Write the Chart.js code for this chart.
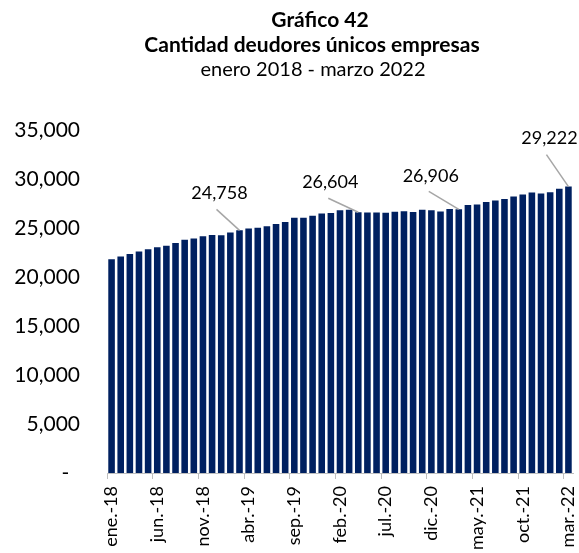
<!DOCTYPE html>
<html>
<head>
<meta charset="utf-8">
<script src="https://cdn.jsdelivr.net/npm/chart.js@4"></script>
<style>
  html, body { margin: 0; padding: 0; background: #fff; overflow: hidden; }
  #wrap { width: 579px; height: 553px; position: relative; }
</style>
</head>
<body>
<div id="wrap"><canvas id="grafico"></canvas></div>
<script>
// titulos del grafico
const tituloLineas = ['Gráfico 42', 'Cantidad deudores únicos empresas'];
const subtitulo = 'enero 2018 - marzo 2022';

// meses (ene-18 a mar-22)
const meses = [
  'ene.-18', 'feb.-18', 'mar.-18', 'abr.-18', 'may.-18', 'jun.-18', 'jul.-18', 'ago.-18', 'sep.-18', 'oct.-18', 'nov.-18', 'dic.-18',
  'ene.-19', 'feb.-19', 'mar.-19', 'abr.-19', 'may.-19', 'jun.-19', 'jul.-19', 'ago.-19', 'sep.-19', 'oct.-19', 'nov.-19', 'dic.-19',
  'ene.-20', 'feb.-20', 'mar.-20', 'abr.-20', 'may.-20', 'jun.-20', 'jul.-20', 'ago.-20', 'sep.-20', 'oct.-20', 'nov.-20', 'dic.-20',
  'ene.-21', 'feb.-21', 'mar.-21', 'abr.-21', 'may.-21', 'jun.-21', 'jul.-21', 'ago.-21', 'sep.-21', 'oct.-21', 'nov.-21', 'dic.-21',
  'ene.-22', 'feb.-22', 'mar.-22'
];

// cantidad de deudores unicos
const deudores = [
  21800, 22080, 22340, 22590, 22820, 23030, 23200, 23460, 23810, 23940, 24150, 24280,
  24250, 24550, 24758, 24960, 25020, 25170, 25400, 25600, 26050, 26050, 26250, 26490,
  26520, 26800, 26870, 26604, 26590, 26590, 26560, 26660, 26720, 26620, 26850, 26800,
  26690, 26930, 26906, 27340, 27410, 27650, 27810, 27950, 28220, 28430, 28630, 28530,
  28660, 29000, 29222
];

// barras con etiqueta de valor
const anotados = [14, 27, 38, 50];

// eje y
const yMax = 35000;
const yPaso = 5000;

// posicion de las etiquetas respecto a la punta de la barra
const desplazamientos = [
  { tx: -20, ty: -37, lx: -23, ly: -21 },
  { tx: -28, ty: -30, lx: -30, ly: -14 },
  { tx: -28, ty: -33, lx: -30, ly: -18 },
  { tx: -19, ty: -48, lx: -22, ly: -32 }
];

const fuente = 'Lato';

const titulos = {
  id: 'titulos',
  afterDraw(chart) {
    const ctx = chart.ctx;
    ctx.save();
    ctx.fillStyle = '#000';
    ctx.textAlign = 'center';
    ctx.textBaseline = 'alphabetic';
    ctx.font = 'bold 21px ' + fuente;
    ctx.fillText(tituloLineas[0], 320, 27);
    ctx.fillText(tituloLineas[1], 312, 52);
    ctx.font = '20px ' + fuente;
    ctx.fillText(subtitulo, 313, 76);
    ctx.restore();
  }
};

const etiquetas = {
  id: 'etiquetas',
  afterDatasetsDraw(chart) {
    const meta = chart.getDatasetMeta(0);
    const ctx = chart.ctx;
    ctx.save();
    anotados.forEach((idx, k) => {
      const bar = meta.data[idx];
      const d = desplazamientos[k];
      ctx.strokeStyle = '#a6a6a6';
      ctx.lineWidth = 1.5;
      ctx.beginPath();
      ctx.moveTo(bar.x + d.lx, bar.y + d.ly);
      ctx.lineTo(bar.x, bar.y);
      ctx.stroke();
      ctx.fillStyle = '#000';
      ctx.font = '18px ' + fuente;
      ctx.textAlign = 'center';
      ctx.textBaseline = 'middle';
      ctx.fillText(deudores[idx].toLocaleString('en-US'), bar.x + d.tx, bar.y + d.ty);
    });
    ctx.restore();
  }
};

new Chart(document.getElementById('grafico'), {
  type: 'bar',
  data: {
    labels: meses,
    datasets: [{
      data: deudores,
      backgroundColor: '#002060',
      borderWidth: 0,
      barPercentage: 0.72,
      categoryPercentage: 1
    }]
  },
  options: {
    responsive: true,
    maintainAspectRatio: false,
    animation: false,
    layout: { padding: { top: 130, left: 0, right: 6, bottom: 0 } },
    plugins: {
      legend: { display: false },
      tooltip: { enabled: false }
    },
    scales: {
      x: {
        afterFit(s) {
          s.height = 80;
          s.paddingLeft = 0;
          s.paddingRight = 0;
        },
        grid: {
          display: true,
          offset: true,
          drawOnChartArea: false,
          drawTicks: true,
          tickLength: 6,
          color: (c) => (c.index % 5 === 0 ? '#bfbfbf' : 'rgba(0,0,0,0)')
        },
        border: { display: true, color: '#bfbfbf', width: 1 },
        ticks: {
          autoSkip: false,
          minRotation: 90,
          maxRotation: 90,
          padding: 7,
          color: '#000',
          font: { family: fuente, size: 18 },
          callback: function (v, i) { return i % 5 === 0 ? this.getLabelForValue(v) : ''; }
        }
      },
      y: {
        min: 0,
        max: yMax,
        afterFit(s) { s.width = 107; },
        grid: { display: false, drawTicks: false },
        border: { display: false },
        ticks: {
          stepSize: yPaso,
          padding: 27,
          color: '#000',
          font: { family: fuente, size: 21 },
          callback: (v) => (v === 0 ? '-  ' : v.toLocaleString('en-US'))
        }
      }
    }
  },
  plugins: [titulos, etiquetas]
});
</script>
</body>
</html>
